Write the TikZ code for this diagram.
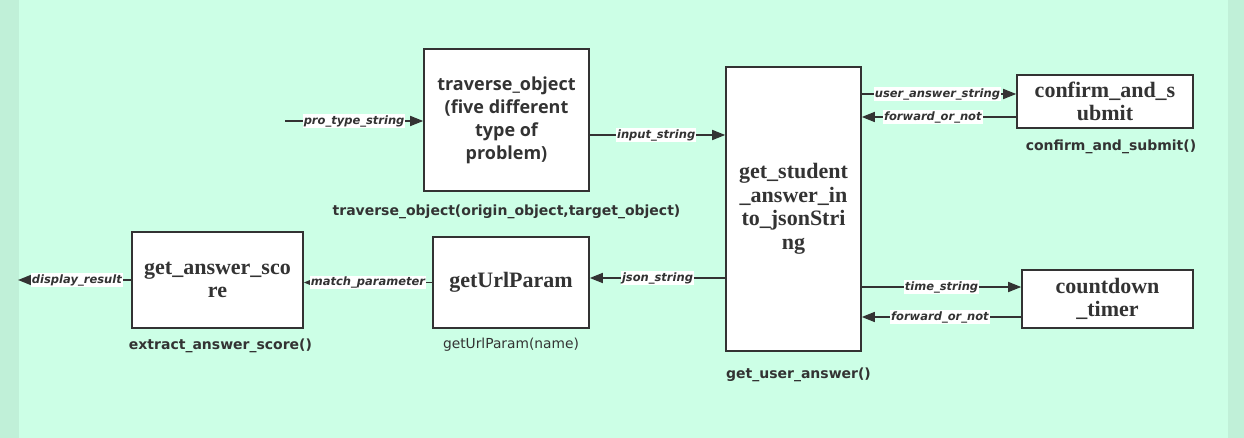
\documentclass[tikz,border=0pt]{standalone}
\usepackage{fontspec}
\setmainfont{Liberation Serif}
\setsansfont{Open Sans}
\newfontfamily\capfont{DejaVu Sans}
\usetikzlibrary{arrows.meta, positioning}
\definecolor{fnbg}{HTML}{CCFFE6}
\definecolor{fnedge}{HTML}{C0F0D8}
\definecolor{fndark}{HTML}{333333}
\tikzset{
  func/.style={rectangle, draw=fndark, line width=1.6pt, fill=white, align=center,
    text=fndark, font=\bfseries\fontsize{22}{23.5}\selectfont},
  funcsans/.style={func, font=\sffamily\bfseries\fontsize{18}{23}\selectfont},
  flow/.style={-{Triangle[length=13pt, width=10pt]}, line width=1.6pt, fndark},
  flowlbl/.style={fill=white, inner sep=1pt, text=fndark,
    font=\capfont\bfseries\itshape\fontsize{11.5}{13}\selectfont},
  fncaption/.style={text=fndark, font=\capfont\bfseries\fontsize{14}{15}\selectfont},
}

\begin{document}
\begin{tikzpicture}[x=1pt, y=-1pt]
  \fill[fnedge] (0,0) rectangle (1244,438);
  \fill[fnbg] (19,0) rectangle (1228,438);
  \useasboundingbox (0,0) rectangle (1244,438);

  % function boxes
  \node[funcsans, minimum width=165pt, minimum height=142pt] (trav) at (506.5,120) {traverse\_object\\(five different\\type of\\problem)};
  \node[func, minimum width=135pt, minimum height=284pt] (stud) at (793.5,209) {get\_student\\\_answer\_in\\to\_jsonStri\\ng};
  \node[func, minimum width=176pt, minimum height=53pt] (conf) at (1105,101.5) {confirm\_and\_s\\ubmit};
  \node[func, minimum width=171pt, minimum height=58pt] (timer) at (1107.5,299) {countdown\\\_timer};
  \node[func, minimum width=156pt, minimum height=91pt] (url) at (511,282.5) {getUrlParam};
  \node[func, minimum width=171pt, minimum height=96pt] (score) at (217.5,280) {get\_answer\_sco\\re};

  % captions
  \node[fncaption, below=10pt of trav] (travcap) {traverse\_object(origin\_object,target\_object)};
  \node[fncaption, below=13pt of stud, xshift=5pt] (studcap) {get\_user\_answer()};
  \node[fncaption, below=8pt of conf, xshift=6pt] (confcap) {confirm\_and\_submit()};
  \node[fncaption, below=6pt of url, font=\capfont\fontsize{13.8}{15}\selectfont] (urlcap) {getUrlParam(name)};
  \node[fncaption, below=7pt of score, xshift=3pt] (scorecap) {extract\_answer\_score()};

  % data flow
  \coordinate (ptin) at (285,121);
  \coordinate (dres) at (18,280);
  \coordinate (inpt) at ([yshift=-15pt]trav.east);
  \coordinate (uas) at ([yshift=7.5pt]conf.west);
  \coordinate (fwd1) at ([yshift=-15.5pt]conf.west);
  \coordinate (tms) at ([yshift=12pt]timer.west);
  \coordinate (fwd2) at ([yshift=-18pt]timer.west);
  \coordinate (jss) at ([yshift=4.5pt]url.east);

  \draw[flow] (ptin) -- (ptin -| trav.west) node[flowlbl, midway] {pro\_type\_string};
  \draw[flow] (inpt) -- (inpt -| stud.west) node[flowlbl, pos=0.49] {input\_string};
  \draw[flow] (uas -| stud.east) -- (uas) node[flowlbl, pos=0.49] {user\_answer\_string};
  \draw[flow] (fwd1) -- (fwd1 -| stud.east) node[flowlbl, pos=0.54] {forward\_or\_not};
  \draw[flow] (tms -| stud.east) -- (tms) node[flowlbl, midway] {time\_string};
  \draw[flow] (fwd2) -- (fwd2 -| stud.east) node[flowlbl, pos=0.51] {forward\_or\_not};
  \draw[flow] (jss -| stud.west) -- (jss) node[flowlbl, midway] {json\_string};
  \draw[flow] (url.west) -- (url.west -| score.east) node[flowlbl, midway] {match\_parameter};
  \draw[flow] (score.west) -- (dres) node[flowlbl, pos=0.48] {display\_result};
\end{tikzpicture}
\end{document}
